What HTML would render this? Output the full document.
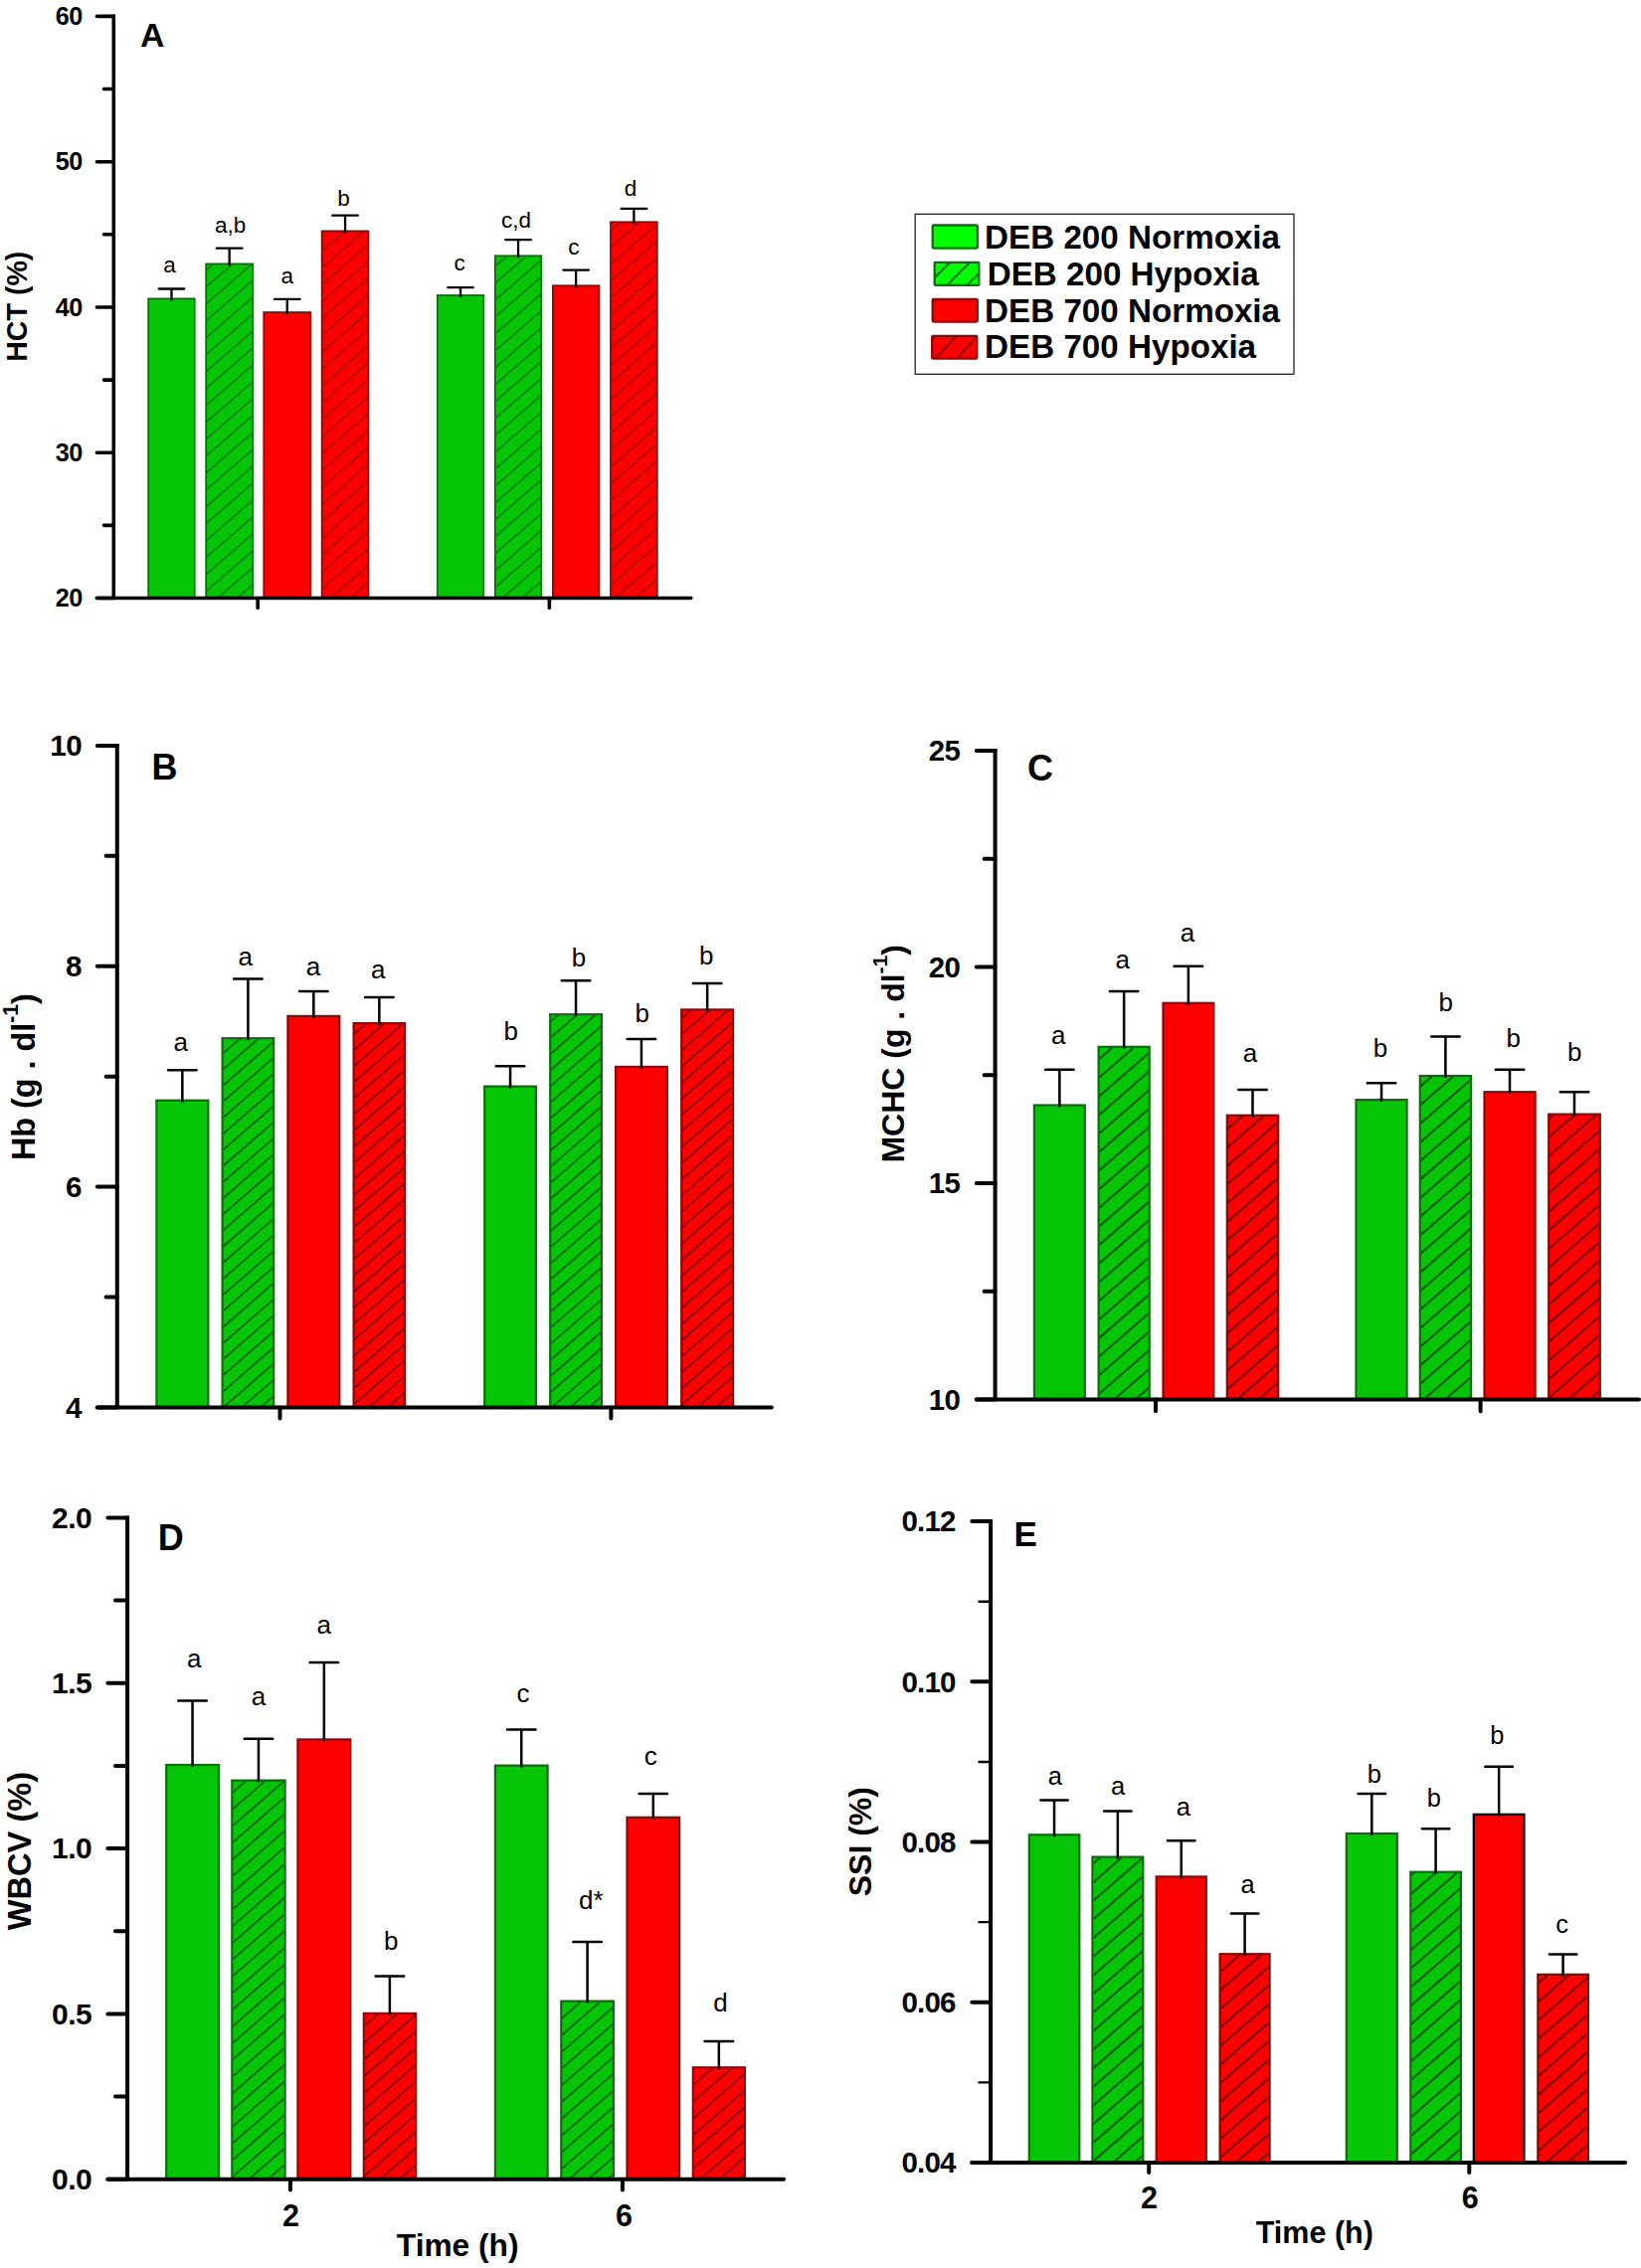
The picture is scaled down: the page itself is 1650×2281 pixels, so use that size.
<!DOCTYPE html>
<html><head><meta charset="utf-8"><title>Figure</title><style>html,body{margin:0;padding:0;background:#fff}svg{display:block}</style></head><body>
<svg width="1650" height="2281" viewBox="0 0 1650 2281" font-family="Liberation Sans, Arial, sans-serif" fill="#000">
<rect x="149.20" y="300.40" width="46.50" height="301.10" fill="#06C406" stroke="#087008" stroke-width="1.8"/>
<path d="M172.45 301.50V290.50M159.60 290.50H185.30" stroke="#000" stroke-width="2.3" stroke-linecap="round" fill="none"/>
<text x="164.30" y="274.20" font-size="22.5" >a</text>
<rect x="207.20" y="265.40" width="46.90" height="336.10" fill="#06C406" stroke="#087008" stroke-width="1.8"/>
<clipPath id="c1"><rect x="208.10" y="266.30" width="45.10" height="335.20"/></clipPath>
<path d="M206.10 255.69L255.20 212.98M206.10 272.69L255.20 229.98M206.10 289.69L255.20 246.98M206.10 306.69L255.20 263.98M206.10 323.69L255.20 280.98M206.10 340.69L255.20 297.98M206.10 357.69L255.20 314.98M206.10 374.69L255.20 331.98M206.10 391.69L255.20 348.98M206.10 408.69L255.20 365.98M206.10 425.69L255.20 382.98M206.10 442.69L255.20 399.98M206.10 459.69L255.20 416.98M206.10 476.69L255.20 433.98M206.10 493.69L255.20 450.98M206.10 510.69L255.20 467.98M206.10 527.69L255.20 484.98M206.10 544.69L255.20 501.98M206.10 561.69L255.20 518.98M206.10 578.69L255.20 535.98M206.10 595.69L255.20 552.98M206.10 612.69L255.20 569.98M206.10 629.69L255.20 586.98M206.10 646.69L255.20 603.98" stroke="#0F7A0F" stroke-width="1.5" fill="none" clip-path="url(#c1)"/>
<path d="M230.65 266.50V249.70M217.80 249.70H243.50" stroke="#000" stroke-width="2.3" stroke-linecap="round" fill="none"/>
<text x="215.96" y="233.90" font-size="22.5" >a,b</text>
<rect x="265.30" y="314.10" width="46.90" height="287.40" fill="#FF0000" stroke="#8E0606" stroke-width="1.8"/>
<path d="M288.75 315.20V300.80M275.90 300.80H301.60" stroke="#000" stroke-width="2.3" stroke-linecap="round" fill="none"/>
<text x="282.40" y="284.50" font-size="22.5" >a</text>
<rect x="323.70" y="232.40" width="46.70" height="369.10" fill="#FF0000" stroke="#8E0606" stroke-width="1.8"/>
<clipPath id="c2"><rect x="324.60" y="233.30" width="44.90" height="368.20"/></clipPath>
<path d="M322.60 219.34L371.50 176.80M322.60 236.34L371.50 193.80M322.60 253.34L371.50 210.80M322.60 270.34L371.50 227.80M322.60 287.34L371.50 244.80M322.60 304.34L371.50 261.80M322.60 321.34L371.50 278.80M322.60 338.34L371.50 295.80M322.60 355.34L371.50 312.80M322.60 372.34L371.50 329.80M322.60 389.34L371.50 346.80M322.60 406.34L371.50 363.80M322.60 423.34L371.50 380.80M322.60 440.34L371.50 397.80M322.60 457.34L371.50 414.80M322.60 474.34L371.50 431.80M322.60 491.34L371.50 448.80M322.60 508.34L371.50 465.80M322.60 525.34L371.50 482.80M322.60 542.34L371.50 499.80M322.60 559.34L371.50 516.80M322.60 576.34L371.50 533.80M322.60 593.34L371.50 550.80M322.60 610.34L371.50 567.80M322.60 627.34L371.50 584.80M322.60 644.34L371.50 601.80" stroke="#A60A0A" stroke-width="1.5" fill="none" clip-path="url(#c2)"/>
<path d="M347.05 233.50V216.70M334.20 216.70H359.90" stroke="#000" stroke-width="2.3" stroke-linecap="round" fill="none"/>
<text x="339.30" y="207.30" font-size="22.5" >b</text>
<rect x="439.80" y="297.00" width="46.50" height="304.50" fill="#06C406" stroke="#087008" stroke-width="1.8"/>
<path d="M463.05 298.10V289.10M450.20 289.10H475.90" stroke="#000" stroke-width="2.3" stroke-linecap="round" fill="none"/>
<text x="456.38" y="272.00" font-size="22.5" >c</text>
<rect x="497.90" y="257.30" width="46.30" height="344.20" fill="#06C406" stroke="#087008" stroke-width="1.8"/>
<clipPath id="c3"><rect x="498.80" y="258.20" width="44.50" height="343.30"/></clipPath>
<path d="M496.80 251.78L545.30 209.59M496.80 268.78L545.30 226.59M496.80 285.78L545.30 243.59M496.80 302.78L545.30 260.59M496.80 319.78L545.30 277.59M496.80 336.78L545.30 294.59M496.80 353.78L545.30 311.59M496.80 370.78L545.30 328.59M496.80 387.78L545.30 345.59M496.80 404.78L545.30 362.59M496.80 421.78L545.30 379.59M496.80 438.78L545.30 396.59M496.80 455.78L545.30 413.59M496.80 472.78L545.30 430.59M496.80 489.78L545.30 447.59M496.80 506.78L545.30 464.59M496.80 523.78L545.30 481.59M496.80 540.78L545.30 498.59M496.80 557.78L545.30 515.59M496.80 574.78L545.30 532.59M496.80 591.78L545.30 549.59M496.80 608.78L545.30 566.59M496.80 625.78L545.30 583.59M496.80 642.78L545.30 600.59" stroke="#0F7A0F" stroke-width="1.5" fill="none" clip-path="url(#c3)"/>
<path d="M521.05 258.40V241.20M508.20 241.20H533.90" stroke="#000" stroke-width="2.3" stroke-linecap="round" fill="none"/>
<text x="504.04" y="228.50" font-size="22.5" >c,d</text>
<rect x="555.90" y="287.30" width="46.50" height="314.20" fill="#FF0000" stroke="#8E0606" stroke-width="1.8"/>
<path d="M579.15 288.40V271.60M566.30 271.60H592.00" stroke="#000" stroke-width="2.3" stroke-linecap="round" fill="none"/>
<text x="571.27" y="256.40" font-size="22.5" >c</text>
<rect x="614.00" y="223.30" width="46.80" height="378.20" fill="#FF0000" stroke="#8E0606" stroke-width="1.8"/>
<clipPath id="c4"><rect x="614.90" y="224.20" width="45.00" height="377.30"/></clipPath>
<path d="M612.90 215.78L661.90 173.15M612.90 232.78L661.90 190.15M612.90 249.78L661.90 207.15M612.90 266.78L661.90 224.15M612.90 283.78L661.90 241.15M612.90 300.78L661.90 258.15M612.90 317.78L661.90 275.15M612.90 334.78L661.90 292.15M612.90 351.78L661.90 309.15M612.90 368.78L661.90 326.15M612.90 385.78L661.90 343.15M612.90 402.78L661.90 360.15M612.90 419.78L661.90 377.15M612.90 436.78L661.90 394.15M612.90 453.78L661.90 411.15M612.90 470.78L661.90 428.15M612.90 487.78L661.90 445.15M612.90 504.78L661.90 462.15M612.90 521.78L661.90 479.15M612.90 538.78L661.90 496.15M612.90 555.78L661.90 513.15M612.90 572.78L661.90 530.15M612.90 589.78L661.90 547.15M612.90 606.78L661.90 564.15M612.90 623.78L661.90 581.15M612.90 640.78L661.90 598.15M612.90 657.78L661.90 615.15" stroke="#A60A0A" stroke-width="1.5" fill="none" clip-path="url(#c4)"/>
<path d="M637.40 224.40V209.80M624.55 209.80H650.25" stroke="#000" stroke-width="2.3" stroke-linecap="round" fill="none"/>
<text x="627.70" y="196.70" font-size="22.5" >d</text>
<path d="M114.30 14.60V601.50" stroke="#000" stroke-width="3.6" fill="none"/>
<path d="M97.40 601.50H694.80" stroke="#000" stroke-width="3.6" stroke-linecap="round" fill="none"/>
<text x="55.73" y="25.09" font-size="25.2" font-weight="700" letter-spacing="-0.5">60</text>
<text x="55.73" y="171.37" font-size="25.2" font-weight="700" letter-spacing="-0.5">50</text>
<text x="55.73" y="317.64" font-size="25.2" font-weight="700" letter-spacing="-0.5">40</text>
<text x="55.73" y="463.92" font-size="25.2" font-weight="700" letter-spacing="-0.5">30</text>
<text x="55.73" y="610.19" font-size="25.2" font-weight="700" letter-spacing="-0.5">20</text>
<path d="M97.40 16.40H114.30M97.40 162.68H114.30M97.40 308.95H114.30M97.40 455.23H114.30M97.40 601.50H114.30" stroke="#000" stroke-width="3.6" stroke-linecap="round" fill="none"/>
<path d="M104.50 89.54H114.30M104.50 235.81H114.30M104.50 382.09H114.30M104.50 528.36H114.30" stroke="#000" stroke-width="3.6" stroke-linecap="round" fill="none"/>
<path d="M259.20 601.50V611.50M552.40 601.50V611.50" stroke="#000" stroke-width="3.6" stroke-linecap="round" fill="none"/>
<text x="141.00" y="46.90" font-size="33.8" font-weight="700" >A</text>
<text transform="translate(27.20 363.80) rotate(-90)" font-size="28.6" font-weight="700">HCT (%)</text>
<rect x="157.40" y="1106.70" width="51.90" height="308.70" fill="#06C406" stroke="#087008" stroke-width="2.2"/>
<path d="M183.35 1107.60V1076.30M169.10 1076.30H197.60" stroke="#000" stroke-width="2.5" stroke-linecap="round" fill="none"/>
<text x="174.52" y="1057.30" font-size="26" >a</text>
<rect x="223.60" y="1044.20" width="51.60" height="371.20" fill="#06C406" stroke="#087008" stroke-width="2.2"/>
<clipPath id="c5"><rect x="224.70" y="1045.30" width="49.40" height="370.10"/></clipPath>
<path d="M222.70 1044.45L276.10 997.99M222.70 1060.65L276.10 1014.19M222.70 1076.85L276.10 1030.39M222.70 1093.05L276.10 1046.59M222.70 1109.25L276.10 1062.79M222.70 1125.45L276.10 1078.99M222.70 1141.65L276.10 1095.19M222.70 1157.85L276.10 1111.39M222.70 1174.05L276.10 1127.59M222.70 1190.25L276.10 1143.79M222.70 1206.45L276.10 1159.99M222.70 1222.65L276.10 1176.19M222.70 1238.85L276.10 1192.39M222.70 1255.05L276.10 1208.59M222.70 1271.25L276.10 1224.79M222.70 1287.45L276.10 1240.99M222.70 1303.65L276.10 1257.19M222.70 1319.85L276.10 1273.39M222.70 1336.05L276.10 1289.59M222.70 1352.25L276.10 1305.79M222.70 1368.45L276.10 1321.99M222.70 1384.65L276.10 1338.19M222.70 1400.85L276.10 1354.39M222.70 1417.05L276.10 1370.59M222.70 1433.25L276.10 1386.79M222.70 1449.45L276.10 1402.99M222.70 1465.65L276.10 1419.19" stroke="#085A08" stroke-width="1.6" fill="none" clip-path="url(#c5)"/>
<path d="M249.40 1045.10V984.60M235.15 984.60H263.65" stroke="#000" stroke-width="2.5" stroke-linecap="round" fill="none"/>
<text x="239.42" y="970.70" font-size="26" >a</text>
<rect x="289.40" y="1021.90" width="51.90" height="393.50" fill="#FF0000" stroke="#8E0606" stroke-width="2.2"/>
<path d="M315.35 1022.80V997.00M301.10 997.00H329.60" stroke="#000" stroke-width="2.5" stroke-linecap="round" fill="none"/>
<text x="307.72" y="980.90" font-size="26" >a</text>
<rect x="355.60" y="1029.10" width="51.50" height="386.30" fill="#FF0000" stroke="#8E0606" stroke-width="2.2"/>
<clipPath id="c6"><rect x="356.70" y="1030.20" width="49.30" height="385.20"/></clipPath>
<path d="M354.70 1024.61L408.00 978.24M354.70 1040.81L408.00 994.44M354.70 1057.01L408.00 1010.64M354.70 1073.21L408.00 1026.84M354.70 1089.41L408.00 1043.04M354.70 1105.61L408.00 1059.24M354.70 1121.81L408.00 1075.44M354.70 1138.01L408.00 1091.64M354.70 1154.21L408.00 1107.84M354.70 1170.41L408.00 1124.04M354.70 1186.61L408.00 1140.24M354.70 1202.81L408.00 1156.44M354.70 1219.01L408.00 1172.64M354.70 1235.21L408.00 1188.84M354.70 1251.41L408.00 1205.04M354.70 1267.61L408.00 1221.24M354.70 1283.81L408.00 1237.44M354.70 1300.01L408.00 1253.64M354.70 1316.21L408.00 1269.84M354.70 1332.41L408.00 1286.04M354.70 1348.61L408.00 1302.24M354.70 1364.81L408.00 1318.44M354.70 1381.01L408.00 1334.64M354.70 1397.21L408.00 1350.84M354.70 1413.41L408.00 1367.04M354.70 1429.61L408.00 1383.24M354.70 1445.81L408.00 1399.44M354.70 1462.01L408.00 1415.64" stroke="#780404" stroke-width="1.6" fill="none" clip-path="url(#c6)"/>
<path d="M381.35 1030.00V1003.10M367.10 1003.10H395.60" stroke="#000" stroke-width="2.5" stroke-linecap="round" fill="none"/>
<text x="372.92" y="984.00" font-size="26" >a</text>
<rect x="487.20" y="1092.60" width="51.70" height="322.80" fill="#06C406" stroke="#087008" stroke-width="2.2"/>
<path d="M513.05 1093.50V1072.20M498.80 1072.20H527.30" stroke="#000" stroke-width="2.5" stroke-linecap="round" fill="none"/>
<text x="506.62" y="1045.90" font-size="26" >b</text>
<rect x="553.20" y="1020.20" width="51.70" height="395.20" fill="#06C406" stroke="#087008" stroke-width="2.2"/>
<clipPath id="c7"><rect x="554.30" y="1021.30" width="49.50" height="394.10"/></clipPath>
<path d="M552.30 1012.50L605.80 965.95M552.30 1028.70L605.80 982.15M552.30 1044.90L605.80 998.35M552.30 1061.10L605.80 1014.55M552.30 1077.30L605.80 1030.75M552.30 1093.50L605.80 1046.95M552.30 1109.70L605.80 1063.15M552.30 1125.90L605.80 1079.35M552.30 1142.10L605.80 1095.55M552.30 1158.30L605.80 1111.75M552.30 1174.50L605.80 1127.95M552.30 1190.70L605.80 1144.15M552.30 1206.90L605.80 1160.35M552.30 1223.10L605.80 1176.55M552.30 1239.30L605.80 1192.75M552.30 1255.50L605.80 1208.95M552.30 1271.70L605.80 1225.15M552.30 1287.90L605.80 1241.35M552.30 1304.10L605.80 1257.55M552.30 1320.30L605.80 1273.75M552.30 1336.50L605.80 1289.95M552.30 1352.70L605.80 1306.15M552.30 1368.90L605.80 1322.35M552.30 1385.10L605.80 1338.55M552.30 1401.30L605.80 1354.75M552.30 1417.50L605.80 1370.95M552.30 1433.70L605.80 1387.15M552.30 1449.90L605.80 1403.35M552.30 1466.10L605.80 1419.55" stroke="#085A08" stroke-width="1.6" fill="none" clip-path="url(#c7)"/>
<path d="M579.05 1021.10V986.20M564.80 986.20H593.30" stroke="#000" stroke-width="2.5" stroke-linecap="round" fill="none"/>
<text x="574.72" y="972.40" font-size="26" >b</text>
<rect x="619.10" y="1072.90" width="51.70" height="342.50" fill="#FF0000" stroke="#8E0606" stroke-width="2.2"/>
<path d="M644.95 1073.80V1045.00M630.70 1045.00H659.20" stroke="#000" stroke-width="2.5" stroke-linecap="round" fill="none"/>
<text x="638.52" y="1027.70" font-size="26" >b</text>
<rect x="685.20" y="1015.40" width="51.90" height="400.00" fill="#FF0000" stroke="#8E0606" stroke-width="2.2"/>
<clipPath id="c8"><rect x="686.30" y="1016.50" width="49.70" height="398.90"/></clipPath>
<path d="M684.30 1008.86L738.00 962.14M684.30 1025.06L738.00 978.34M684.30 1041.26L738.00 994.54M684.30 1057.46L738.00 1010.74M684.30 1073.66L738.00 1026.94M684.30 1089.86L738.00 1043.14M684.30 1106.06L738.00 1059.34M684.30 1122.26L738.00 1075.54M684.30 1138.46L738.00 1091.74M684.30 1154.66L738.00 1107.94M684.30 1170.86L738.00 1124.14M684.30 1187.06L738.00 1140.34M684.30 1203.26L738.00 1156.54M684.30 1219.46L738.00 1172.74M684.30 1235.66L738.00 1188.94M684.30 1251.86L738.00 1205.14M684.30 1268.06L738.00 1221.34M684.30 1284.26L738.00 1237.54M684.30 1300.46L738.00 1253.74M684.30 1316.66L738.00 1269.94M684.30 1332.86L738.00 1286.14M684.30 1349.06L738.00 1302.34M684.30 1365.26L738.00 1318.54M684.30 1381.46L738.00 1334.74M684.30 1397.66L738.00 1350.94M684.30 1413.86L738.00 1367.14M684.30 1430.06L738.00 1383.34M684.30 1446.26L738.00 1399.54M684.30 1462.46L738.00 1415.74" stroke="#780404" stroke-width="1.6" fill="none" clip-path="url(#c8)"/>
<path d="M711.15 1016.30V988.90M696.90 988.90H725.40" stroke="#000" stroke-width="2.5" stroke-linecap="round" fill="none"/>
<text x="703.02" y="970.20" font-size="26" >b</text>
<path d="M117.80 747.90V1415.40" stroke="#000" stroke-width="4" fill="none"/>
<path d="M97.80 1415.40H775.80" stroke="#000" stroke-width="4" stroke-linecap="round" fill="none"/>
<text x="50.34" y="760.11" font-size="29.6" font-weight="700" letter-spacing="-0.6">10</text>
<text x="66.02" y="981.95" font-size="29.6" font-weight="700" letter-spacing="-0.6">8</text>
<text x="66.02" y="1203.78" font-size="29.6" font-weight="700" letter-spacing="-0.6">6</text>
<text x="66.02" y="1425.61" font-size="29.6" font-weight="700" letter-spacing="-0.6">4</text>
<path d="M97.80 749.90H117.80M97.80 971.73H117.80M97.80 1193.57H117.80M97.80 1415.40H117.80" stroke="#000" stroke-width="4" stroke-linecap="round" fill="none"/>
<path d="M106.60 860.82H117.80M106.60 1082.65H117.80M106.60 1304.48H117.80" stroke="#000" stroke-width="4" stroke-linecap="round" fill="none"/>
<path d="M281.50 1415.40V1426.50M614.40 1415.40V1426.50" stroke="#000" stroke-width="4" stroke-linecap="round" fill="none"/>
<text x="152.40" y="784.10" font-size="36" font-weight="700" >B</text>
<text transform="translate(34.90 1167.00) rotate(-90)" font-size="32.3" font-weight="700">Hb (g . dl<tspan font-size="21.3" dy="-17.1">-1</tspan><tspan dy="17.1">)</tspan></text>
<rect x="1039.90" y="1111.50" width="50.90" height="296.10" fill="#06C406" stroke="#087008" stroke-width="2.2"/>
<path d="M1065.35 1112.40V1075.80M1051.10 1075.80H1079.60" stroke="#000" stroke-width="2.5" stroke-linecap="round" fill="none"/>
<text x="1057.02" y="1050.30" font-size="26" >a</text>
<rect x="1104.60" y="1052.80" width="51.10" height="354.80" fill="#06C406" stroke="#087008" stroke-width="2.2"/>
<clipPath id="c9"><rect x="1105.70" y="1053.90" width="48.90" height="353.70"/></clipPath>
<path d="M1103.70 1047.68L1156.60 1001.66M1103.70 1066.38L1156.60 1020.36M1103.70 1085.08L1156.60 1039.06M1103.70 1103.78L1156.60 1057.76M1103.70 1122.48L1156.60 1076.46M1103.70 1141.18L1156.60 1095.16M1103.70 1159.88L1156.60 1113.86M1103.70 1178.58L1156.60 1132.56M1103.70 1197.28L1156.60 1151.26M1103.70 1215.98L1156.60 1169.96M1103.70 1234.68L1156.60 1188.66M1103.70 1253.38L1156.60 1207.36M1103.70 1272.08L1156.60 1226.06M1103.70 1290.78L1156.60 1244.76M1103.70 1309.48L1156.60 1263.46M1103.70 1328.18L1156.60 1282.16M1103.70 1346.88L1156.60 1300.86M1103.70 1365.58L1156.60 1319.56M1103.70 1384.28L1156.60 1338.26M1103.70 1402.98L1156.60 1356.96M1103.70 1421.68L1156.60 1375.66M1103.70 1440.38L1156.60 1394.36M1103.70 1459.08L1156.60 1413.06" stroke="#085A08" stroke-width="2.1" fill="none" clip-path="url(#c9)"/>
<path d="M1130.15 1053.70V997.00M1115.90 997.00H1144.40" stroke="#000" stroke-width="2.5" stroke-linecap="round" fill="none"/>
<text x="1121.62" y="974.20" font-size="26" >a</text>
<rect x="1169.50" y="1008.80" width="50.80" height="398.80" fill="#FF0000" stroke="#8E0606" stroke-width="2.2"/>
<path d="M1194.90 1009.70V971.80M1180.65 971.80H1209.15" stroke="#000" stroke-width="2.5" stroke-linecap="round" fill="none"/>
<text x="1186.72" y="946.50" font-size="26" >a</text>
<rect x="1233.80" y="1121.70" width="51.40" height="285.90" fill="#FF0000" stroke="#8E0606" stroke-width="2.2"/>
<clipPath id="c10"><rect x="1234.90" y="1122.80" width="49.20" height="284.80"/></clipPath>
<path d="M1232.90 1117.58L1286.10 1071.29M1232.90 1136.28L1286.10 1089.99M1232.90 1154.98L1286.10 1108.69M1232.90 1173.68L1286.10 1127.39M1232.90 1192.38L1286.10 1146.09M1232.90 1211.08L1286.10 1164.79M1232.90 1229.78L1286.10 1183.49M1232.90 1248.48L1286.10 1202.19M1232.90 1267.18L1286.10 1220.89M1232.90 1285.88L1286.10 1239.59M1232.90 1304.58L1286.10 1258.29M1232.90 1323.28L1286.10 1276.99M1232.90 1341.98L1286.10 1295.69M1232.90 1360.68L1286.10 1314.39M1232.90 1379.38L1286.10 1333.09M1232.90 1398.08L1286.10 1351.79M1232.90 1416.78L1286.10 1370.49M1232.90 1435.48L1286.10 1389.19M1232.90 1454.18L1286.10 1407.89" stroke="#780404" stroke-width="2.1" fill="none" clip-path="url(#c10)"/>
<path d="M1259.50 1122.60V1096.00M1245.25 1096.00H1273.75" stroke="#000" stroke-width="2.5" stroke-linecap="round" fill="none"/>
<text x="1249.72" y="1067.70" font-size="26" >a</text>
<rect x="1363.50" y="1106.10" width="51.10" height="301.50" fill="#06C406" stroke="#087008" stroke-width="2.2"/>
<path d="M1389.05 1107.00V1089.20M1374.80 1089.20H1403.30" stroke="#000" stroke-width="2.5" stroke-linecap="round" fill="none"/>
<text x="1380.72" y="1063.30" font-size="26" >b</text>
<rect x="1427.80" y="1082.00" width="51.30" height="325.60" fill="#06C406" stroke="#087008" stroke-width="2.2"/>
<clipPath id="c11"><rect x="1428.90" y="1083.10" width="49.10" height="324.50"/></clipPath>
<path d="M1426.90 1075.00L1480.00 1028.80M1426.90 1093.70L1480.00 1047.50M1426.90 1112.40L1480.00 1066.20M1426.90 1131.10L1480.00 1084.90M1426.90 1149.80L1480.00 1103.60M1426.90 1168.50L1480.00 1122.30M1426.90 1187.20L1480.00 1141.00M1426.90 1205.90L1480.00 1159.70M1426.90 1224.60L1480.00 1178.40M1426.90 1243.30L1480.00 1197.10M1426.90 1262.00L1480.00 1215.80M1426.90 1280.70L1480.00 1234.50M1426.90 1299.40L1480.00 1253.20M1426.90 1318.10L1480.00 1271.90M1426.90 1336.80L1480.00 1290.60M1426.90 1355.50L1480.00 1309.30M1426.90 1374.20L1480.00 1328.00M1426.90 1392.90L1480.00 1346.70M1426.90 1411.60L1480.00 1365.40M1426.90 1430.30L1480.00 1384.10M1426.90 1449.00L1480.00 1402.80M1426.90 1467.70L1480.00 1421.50" stroke="#085A08" stroke-width="2.1" fill="none" clip-path="url(#c11)"/>
<path d="M1453.45 1082.90V1042.50M1439.20 1042.50H1467.70" stroke="#000" stroke-width="2.5" stroke-linecap="round" fill="none"/>
<text x="1446.42" y="1017.40" font-size="26" >b</text>
<rect x="1492.50" y="1098.20" width="51.10" height="309.40" fill="#FF0000" stroke="#8E0606" stroke-width="2.2"/>
<path d="M1518.05 1099.10V1075.80M1503.80 1075.80H1532.30" stroke="#000" stroke-width="2.5" stroke-linecap="round" fill="none"/>
<text x="1514.42" y="1052.50" font-size="26" >b</text>
<rect x="1557.20" y="1120.60" width="51.60" height="287.00" fill="#FF0000" stroke="#8E0606" stroke-width="2.2"/>
<clipPath id="c12"><rect x="1558.30" y="1121.70" width="49.40" height="285.90"/></clipPath>
<path d="M1556.30 1107.32L1609.70 1060.86M1556.30 1126.02L1609.70 1079.56M1556.30 1144.72L1609.70 1098.26M1556.30 1163.42L1609.70 1116.96M1556.30 1182.12L1609.70 1135.66M1556.30 1200.82L1609.70 1154.36M1556.30 1219.52L1609.70 1173.06M1556.30 1238.22L1609.70 1191.76M1556.30 1256.92L1609.70 1210.46M1556.30 1275.62L1609.70 1229.16M1556.30 1294.32L1609.70 1247.86M1556.30 1313.02L1609.70 1266.56M1556.30 1331.72L1609.70 1285.26M1556.30 1350.42L1609.70 1303.96M1556.30 1369.12L1609.70 1322.66M1556.30 1387.82L1609.70 1341.36M1556.30 1406.52L1609.70 1360.06M1556.30 1425.22L1609.70 1378.76M1556.30 1443.92L1609.70 1397.46M1556.30 1462.62L1609.70 1416.16" stroke="#780404" stroke-width="2.1" fill="none" clip-path="url(#c12)"/>
<path d="M1583.00 1121.50V1098.20M1568.75 1098.20H1597.25" stroke="#000" stroke-width="2.5" stroke-linecap="round" fill="none"/>
<text x="1576.02" y="1067.20" font-size="26" >b</text>
<path d="M1000.60 752.90V1407.60" stroke="#000" stroke-width="4" fill="none"/>
<path d="M981.80 1407.60H1648.00" stroke="#000" stroke-width="4" stroke-linecap="round" fill="none"/>
<text x="933.87" y="765.04" font-size="29.4" font-weight="700" letter-spacing="-0.7">25</text>
<text x="933.87" y="982.61" font-size="29.4" font-weight="700" letter-spacing="-0.7">20</text>
<text x="933.87" y="1200.18" font-size="29.4" font-weight="700" letter-spacing="-0.7">15</text>
<text x="933.87" y="1417.74" font-size="29.4" font-weight="700" letter-spacing="-0.7">10</text>
<path d="M981.80 754.90H1000.60M981.80 972.47H1000.60M981.80 1190.03H1000.60M981.80 1407.60H1000.60" stroke="#000" stroke-width="4" stroke-linecap="round" fill="none"/>
<path d="M989.60 863.68H1000.60M989.60 1081.25H1000.60M989.60 1298.82H1000.60" stroke="#000" stroke-width="4" stroke-linecap="round" fill="none"/>
<path d="M1162.00 1407.60V1419.20M1488.60 1407.60V1419.20" stroke="#000" stroke-width="4" stroke-linecap="round" fill="none"/>
<text x="1033.00" y="785.24" font-size="36" font-weight="700" >C</text>
<text transform="translate(909.30 1169.60) rotate(-90)" font-size="32" font-weight="700">MCHC (g . dl<tspan font-size="21.1" dy="-17.0">-1</tspan><tspan dy="17.0">)</tspan></text>
<rect x="167.20" y="1775.00" width="52.70" height="416.70" fill="#06C406" stroke="#087008" stroke-width="2.2"/>
<path d="M193.55 1775.90V1710.60M179.30 1710.60H207.80" stroke="#000" stroke-width="2.5" stroke-linecap="round" fill="none"/>
<text x="188.02" y="1677.30" font-size="26" >a</text>
<rect x="233.30" y="1790.60" width="53.30" height="401.10" fill="#06C406" stroke="#087008" stroke-width="2.2"/>
<clipPath id="c13"><rect x="234.40" y="1791.70" width="51.10" height="400.00"/></clipPath>
<path d="M232.40 1787.21L287.50 1739.28M232.40 1804.01L287.50 1756.08M232.40 1820.81L287.50 1772.88M232.40 1837.61L287.50 1789.68M232.40 1854.41L287.50 1806.47M232.40 1871.21L287.50 1823.28M232.40 1888.01L287.50 1840.08M232.40 1904.81L287.50 1856.88M232.40 1921.61L287.50 1873.68M232.40 1938.41L287.50 1890.47M232.40 1955.21L287.50 1907.28M232.40 1972.01L287.50 1924.08M232.40 1988.81L287.50 1940.88M232.40 2005.61L287.50 1957.68M232.40 2022.41L287.50 1974.47M232.40 2039.21L287.50 1991.28M232.40 2056.01L287.50 2008.08M232.40 2072.81L287.50 2024.88M232.40 2089.61L287.50 2041.68M232.40 2106.41L287.50 2058.47M232.40 2123.21L287.50 2075.28M232.40 2140.01L287.50 2092.08M232.40 2156.81L287.50 2108.88M232.40 2173.61L287.50 2125.68M232.40 2190.41L287.50 2142.47M232.40 2207.21L287.50 2159.28M232.40 2224.01L287.50 2176.08M232.40 2240.81L287.50 2192.88" stroke="#085A08" stroke-width="1.6" fill="none" clip-path="url(#c13)"/>
<path d="M259.95 1791.50V1748.80M245.70 1748.80H274.20" stroke="#000" stroke-width="2.5" stroke-linecap="round" fill="none"/>
<text x="252.72" y="1715.40" font-size="26" >a</text>
<rect x="299.40" y="1749.40" width="52.90" height="442.30" fill="#FF0000" stroke="#8E0606" stroke-width="2.2"/>
<path d="M325.85 1750.30V1672.00M311.60 1672.00H340.10" stroke="#000" stroke-width="2.5" stroke-linecap="round" fill="none"/>
<text x="318.52" y="1642.70" font-size="26" >a</text>
<rect x="365.80" y="2024.90" width="52.20" height="166.80" fill="#FF0000" stroke="#8E0606" stroke-width="2.2"/>
<clipPath id="c14"><rect x="366.90" y="2026.00" width="50.00" height="165.70"/></clipPath>
<path d="M364.90 2021.94L418.90 1974.96M364.90 2038.74L418.90 1991.76M364.90 2055.54L418.90 2008.56M364.90 2072.34L418.90 2025.36M364.90 2089.14L418.90 2042.16M364.90 2105.94L418.90 2058.96M364.90 2122.74L418.90 2075.76M364.90 2139.54L418.90 2092.56M364.90 2156.34L418.90 2109.36M364.90 2173.14L418.90 2126.16M364.90 2189.94L418.90 2142.96M364.90 2206.74L418.90 2159.76M364.90 2223.54L418.90 2176.56M364.90 2240.34L418.90 2193.36" stroke="#780404" stroke-width="1.6" fill="none" clip-path="url(#c14)"/>
<path d="M391.90 2025.80V1987.60M377.65 1987.60H406.15" stroke="#000" stroke-width="2.5" stroke-linecap="round" fill="none"/>
<text x="386.02" y="1960.80" font-size="26" >b</text>
<rect x="497.90" y="1775.60" width="52.70" height="416.10" fill="#06C406" stroke="#087008" stroke-width="2.2"/>
<path d="M524.25 1776.50V1739.40M510.00 1739.40H538.50" stroke="#000" stroke-width="2.5" stroke-linecap="round" fill="none"/>
<text x="519.50" y="1711.50" font-size="26" >c</text>
<rect x="564.30" y="2012.60" width="52.60" height="179.10" fill="#06C406" stroke="#087008" stroke-width="2.2"/>
<clipPath id="c15"><rect x="565.40" y="2013.70" width="50.40" height="178.00"/></clipPath>
<path d="M563.40 2014.44L617.80 1967.11M563.40 2031.24L617.80 1983.91M563.40 2048.04L617.80 2000.71M563.40 2064.84L617.80 2017.51M563.40 2081.64L617.80 2034.31M563.40 2098.44L617.80 2051.11M563.40 2115.24L617.80 2067.91M563.40 2132.04L617.80 2084.71M563.40 2148.84L617.80 2101.51M563.40 2165.64L617.80 2118.31M563.40 2182.44L617.80 2135.11M563.40 2199.24L617.80 2151.91M563.40 2216.04L617.80 2168.71M563.40 2232.84L617.80 2185.51M563.40 2249.64L617.80 2202.31" stroke="#085A08" stroke-width="1.6" fill="none" clip-path="url(#c15)"/>
<path d="M590.60 2013.50V1953.00M576.35 1953.00H604.85" stroke="#000" stroke-width="2.5" stroke-linecap="round" fill="none"/>
<text x="582.05" y="1919.70" font-size="26" >d*</text>
<rect x="630.50" y="1827.80" width="52.60" height="363.90" fill="#FF0000" stroke="#8E0606" stroke-width="2.2"/>
<path d="M656.80 1828.70V1803.90M642.55 1803.90H671.05" stroke="#000" stroke-width="2.5" stroke-linecap="round" fill="none"/>
<text x="647.70" y="1774.80" font-size="26" >c</text>
<rect x="696.80" y="2079.30" width="52.10" height="112.40" fill="#FF0000" stroke="#8E0606" stroke-width="2.2"/>
<clipPath id="c16"><rect x="697.90" y="2080.40" width="49.90" height="111.30"/></clipPath>
<path d="M695.90 2081.17L749.80 2034.27M695.90 2097.97L749.80 2051.07M695.90 2114.77L749.80 2067.87M695.90 2131.57L749.80 2084.67M695.90 2148.37L749.80 2101.47M695.90 2165.17L749.80 2118.27M695.90 2181.97L749.80 2135.07M695.90 2198.77L749.80 2151.87M695.90 2215.57L749.80 2168.67M695.90 2232.37L749.80 2185.47M695.90 2249.17L749.80 2202.27" stroke="#780404" stroke-width="1.6" fill="none" clip-path="url(#c16)"/>
<path d="M722.85 2080.20V2053.00M708.60 2053.00H737.10" stroke="#000" stroke-width="2.5" stroke-linecap="round" fill="none"/>
<text x="717.22" y="2022.80" font-size="26" >d</text>
<path d="M128.10 1524.40V2191.70" stroke="#000" stroke-width="4" fill="none"/>
<path d="M108.40 2191.70H788.10" stroke="#000" stroke-width="4" stroke-linecap="round" fill="none"/>
<text x="52.10" y="1536.75" font-size="30" font-weight="700" letter-spacing="-0.6">2.0</text>
<text x="52.10" y="1703.07" font-size="30" font-weight="700" letter-spacing="-0.6">1.5</text>
<text x="52.10" y="1869.40" font-size="30" font-weight="700" letter-spacing="-0.6">1.0</text>
<text x="52.10" y="2035.72" font-size="30" font-weight="700" letter-spacing="-0.6">0.5</text>
<text x="52.10" y="2202.05" font-size="30" font-weight="700" letter-spacing="-0.6">0.0</text>
<path d="M108.40 1526.40H128.10M108.40 1692.72H128.10M108.40 1859.05H128.10M108.40 2025.38H128.10M108.40 2191.70H128.10" stroke="#000" stroke-width="4" stroke-linecap="round" fill="none"/>
<path d="M116.00 1609.56H128.10M116.00 1775.89H128.10M116.00 1942.21H128.10M116.00 2108.54H128.10" stroke="#000" stroke-width="4" stroke-linecap="round" fill="none"/>
<path d="M291.90 2191.70V2202.60M625.90 2191.70V2202.60" stroke="#000" stroke-width="4" stroke-linecap="round" fill="none"/>
<text x="158.70" y="1559.10" font-size="36" font-weight="700" >D</text>
<text transform="translate(31.00 1941.20) rotate(-90)" font-size="32.6" font-weight="700">WBCV (%)</text>
<text x="283.96" y="2238.60" font-size="30.5" font-weight="700" >2</text>
<text x="619.06" y="2238.60" font-size="30.5" font-weight="700" >6</text>
<text x="398.86" y="2269.34" font-size="31.7" font-weight="700" >Time (h)</text>
<rect x="1034.80" y="1845.30" width="50.50" height="329.70" fill="#06C406" stroke="#087008" stroke-width="2.2"/>
<path d="M1060.05 1846.20V1810.40M1046.30 1810.40H1073.80" stroke="#000" stroke-width="2.5" stroke-linecap="round" fill="none"/>
<text x="1053.66" y="1795.30" font-size="25.5" >a</text>
<rect x="1098.40" y="1867.60" width="50.90" height="307.40" fill="#06C406" stroke="#087008" stroke-width="2.2"/>
<clipPath id="c17"><rect x="1099.50" y="1868.70" width="48.70" height="306.30"/></clipPath>
<path d="M1097.50 1857.17L1150.20 1811.33M1097.50 1875.87L1150.20 1830.03M1097.50 1894.58L1150.20 1848.73M1097.50 1913.27L1150.20 1867.43M1097.50 1931.97L1150.20 1886.13M1097.50 1950.67L1150.20 1904.83M1097.50 1969.37L1150.20 1923.53M1097.50 1988.08L1150.20 1942.23M1097.50 2006.77L1150.20 1960.93M1097.50 2025.47L1150.20 1979.63M1097.50 2044.17L1150.20 1998.33M1097.50 2062.88L1150.20 2017.03M1097.50 2081.57L1150.20 2035.73M1097.50 2100.27L1150.20 2054.43M1097.50 2118.97L1150.20 2073.13M1097.50 2137.68L1150.20 2091.83M1097.50 2156.38L1150.20 2110.53M1097.50 2175.07L1150.20 2129.23M1097.50 2193.77L1150.20 2147.93M1097.50 2212.47L1150.20 2166.63M1097.50 2231.18L1150.20 2185.33" stroke="#085A08" stroke-width="2.1" fill="none" clip-path="url(#c17)"/>
<path d="M1123.85 1868.50V1821.40M1110.10 1821.40H1137.60" stroke="#000" stroke-width="2.5" stroke-linecap="round" fill="none"/>
<text x="1116.96" y="1805.20" font-size="25.5" >a</text>
<rect x="1162.70" y="1887.40" width="50.10" height="287.60" fill="#FF0000" stroke="#8E0606" stroke-width="2.2"/>
<path d="M1187.75 1888.30V1851.30M1174.00 1851.30H1201.50" stroke="#000" stroke-width="2.5" stroke-linecap="round" fill="none"/>
<text x="1182.86" y="1826.00" font-size="25.5" >a</text>
<rect x="1226.60" y="1965.20" width="50.00" height="209.80" fill="#FF0000" stroke="#8E0606" stroke-width="2.2"/>
<clipPath id="c18"><rect x="1227.70" y="1966.30" width="47.80" height="208.70"/></clipPath>
<path d="M1225.70 1965.34L1277.50 1920.27M1225.70 1984.04L1277.50 1938.98M1225.70 2002.74L1277.50 1957.67M1225.70 2021.44L1277.50 1976.37M1225.70 2040.14L1277.50 1995.08M1225.70 2058.84L1277.50 2013.77M1225.70 2077.54L1277.50 2032.48M1225.70 2096.24L1277.50 2051.18M1225.70 2114.94L1277.50 2069.88M1225.70 2133.64L1277.50 2088.57M1225.70 2152.34L1277.50 2107.27M1225.70 2171.04L1277.50 2125.98M1225.70 2189.74L1277.50 2144.68M1225.70 2208.44L1277.50 2163.38M1225.70 2227.14L1277.50 2182.07" stroke="#780404" stroke-width="2.1" fill="none" clip-path="url(#c18)"/>
<path d="M1251.60 1966.10V1924.40M1237.85 1924.40H1265.35" stroke="#000" stroke-width="2.5" stroke-linecap="round" fill="none"/>
<text x="1247.56" y="1903.50" font-size="25.5" >a</text>
<rect x="1353.80" y="1844.00" width="51.00" height="331.00" fill="#06C406" stroke="#087008" stroke-width="2.2"/>
<path d="M1379.30 1844.90V1803.90M1365.55 1803.90H1393.05" stroke="#000" stroke-width="2.5" stroke-linecap="round" fill="none"/>
<text x="1374.66" y="1793.40" font-size="25.5" >b</text>
<rect x="1418.30" y="1882.70" width="50.60" height="292.30" fill="#06C406" stroke="#087008" stroke-width="2.2"/>
<clipPath id="c19"><rect x="1419.40" y="1883.80" width="48.40" height="291.20"/></clipPath>
<path d="M1417.40 1868.66L1469.80 1823.07M1417.40 1887.36L1469.80 1841.77M1417.40 1906.06L1469.80 1860.47M1417.40 1924.76L1469.80 1879.17M1417.40 1943.46L1469.80 1897.87M1417.40 1962.16L1469.80 1916.57M1417.40 1980.86L1469.80 1935.27M1417.40 1999.56L1469.80 1953.97M1417.40 2018.26L1469.80 1972.67M1417.40 2036.96L1469.80 1991.37M1417.40 2055.66L1469.80 2010.07M1417.40 2074.36L1469.80 2028.77M1417.40 2093.06L1469.80 2047.47M1417.40 2111.76L1469.80 2066.17M1417.40 2130.46L1469.80 2084.87M1417.40 2149.16L1469.80 2103.57M1417.40 2167.86L1469.80 2122.27M1417.40 2186.56L1469.80 2140.97M1417.40 2205.26L1469.80 2159.67M1417.40 2223.96L1469.80 2178.37" stroke="#085A08" stroke-width="2.1" fill="none" clip-path="url(#c19)"/>
<path d="M1443.60 1883.60V1839.20M1429.85 1839.20H1457.35" stroke="#000" stroke-width="2.5" stroke-linecap="round" fill="none"/>
<text x="1434.86" y="1816.60" font-size="25.5" >b</text>
<rect x="1481.80" y="1824.80" width="50.70" height="350.20" fill="#FF0000" stroke="#000" stroke-width="2.2"/>
<path d="M1507.15 1825.70V1776.80M1493.40 1776.80H1520.90" stroke="#000" stroke-width="2.5" stroke-linecap="round" fill="none"/>
<text x="1498.16" y="1754.40" font-size="25.5" >b</text>
<rect x="1546.30" y="1985.80" width="50.60" height="189.20" fill="#FF0000" stroke="#8E0606" stroke-width="2.2"/>
<clipPath id="c20"><rect x="1547.40" y="1986.90" width="48.40" height="188.10"/></clipPath>
<path d="M1545.40 1977.00L1597.80 1931.41M1545.40 1995.70L1597.80 1950.11M1545.40 2014.40L1597.80 1968.81M1545.40 2033.10L1597.80 1987.51M1545.40 2051.80L1597.80 2006.21M1545.40 2070.50L1597.80 2024.91M1545.40 2089.20L1597.80 2043.61M1545.40 2107.90L1597.80 2062.31M1545.40 2126.60L1597.80 2081.01M1545.40 2145.30L1597.80 2099.71M1545.40 2164.00L1597.80 2118.41M1545.40 2182.70L1597.80 2137.11M1545.40 2201.40L1597.80 2155.81M1545.40 2220.10L1597.80 2174.51" stroke="#780404" stroke-width="2.1" fill="none" clip-path="url(#c20)"/>
<path d="M1571.60 1986.70V1965.50M1557.85 1965.50H1585.35" stroke="#000" stroke-width="2.5" stroke-linecap="round" fill="none"/>
<text x="1564.22" y="1943.80" font-size="25.5" >c</text>
<path d="M996.10 1528.10V2175.00" stroke="#000" stroke-width="4" fill="none"/>
<path d="M977.30 2175.00H1634.10" stroke="#000" stroke-width="4" stroke-linecap="round" fill="none"/>
<text x="906.48" y="1540.28" font-size="29.5" font-weight="700" letter-spacing="-0.8">0.12</text>
<text x="906.48" y="1701.50" font-size="29.5" font-weight="700" letter-spacing="-0.8">0.10</text>
<text x="906.48" y="1862.73" font-size="29.5" font-weight="700" letter-spacing="-0.8">0.08</text>
<text x="906.48" y="2023.95" font-size="29.5" font-weight="700" letter-spacing="-0.8">0.06</text>
<text x="906.48" y="2185.18" font-size="29.5" font-weight="700" letter-spacing="-0.8">0.04</text>
<path d="M977.30 1530.10H996.10M977.30 1691.32H996.10M977.30 1852.55H996.10M977.30 2013.78H996.10M977.30 2175.00H996.10" stroke="#000" stroke-width="4" stroke-linecap="round" fill="none"/>
<path d="M984.50 1610.71H996.10M984.50 1771.94H996.10M984.50 1933.16H996.10M984.50 2094.39H996.10" stroke="#000" stroke-width="2.4" stroke-linecap="round" fill="none"/>
<path d="M1155.20 2175.00V2185.00M1477.30 2175.00V2185.00" stroke="#000" stroke-width="4" stroke-linecap="round" fill="none"/>
<text x="1019.60" y="1555.40" font-size="35" font-weight="700" >E</text>
<text transform="translate(876.00 1907.30) rotate(-90)" font-size="32" font-weight="700">SSI (%)</text>
<text x="1146.96" y="2220.80" font-size="30.5" font-weight="700" >2</text>
<text x="1469.86" y="2220.80" font-size="30.5" font-weight="700" >6</text>
<text x="1262.78" y="2255.79" font-size="30.5" font-weight="700" >Time (h)</text>
<rect x="920.2" y="215.3" width="380.8" height="161" fill="#fff" stroke="#111" stroke-width="1.2"/>
<rect x="937.70" y="226.50" width="45.10" height="23.10" rx="1" fill="#00FF00" stroke="#087008" stroke-width="2.3"/>
<text x="990.10" y="249.70" font-size="33.2" font-weight="700" >DEB 200 Normoxia</text>
<rect x="939.70" y="263.80" width="44.60" height="23.10" rx="1" fill="#00FF00" stroke="#087008" stroke-width="2.3"/>
<clipPath id="lg1"><rect x="940.70" y="264.80" width="42.60" height="21.10"/></clipPath>
<path d="M938.70 260.30L985.30 213.70M938.70 280.30L985.30 233.70M938.70 300.30L985.30 253.70M938.70 320.30L985.30 273.70M938.70 340.30L985.30 293.70" stroke="#087008" stroke-width="2.2" fill="none" clip-path="url(#lg1)"/>
<text x="992.70" y="287.00" font-size="33.2" font-weight="700" >DEB 200 Hypoxia</text>
<rect x="937.70" y="301.00" width="45.10" height="22.60" rx="1" fill="#FF0000" stroke="#8E0606" stroke-width="2.3"/>
<text x="990.10" y="323.60" font-size="33.2" font-weight="700" >DEB 700 Normoxia</text>
<rect x="937.20" y="337.80" width="45.10" height="22.90" rx="1" fill="#FF0000" stroke="#8E0606" stroke-width="2.3"/>
<clipPath id="lg3"><rect x="938.20" y="338.80" width="43.10" height="20.90"/></clipPath>
<path d="M936.20 318.58L983.30 266.77M936.20 342.08L983.30 290.27M936.20 365.58L983.30 313.77M936.20 389.08L983.30 337.27M936.20 412.58L983.30 360.77" stroke="#8E0606" stroke-width="2.2" fill="none" clip-path="url(#lg3)"/>
<text x="990.10" y="360.40" font-size="33.2" font-weight="700" >DEB 700 Hypoxia</text>
</svg>
</body></html>
